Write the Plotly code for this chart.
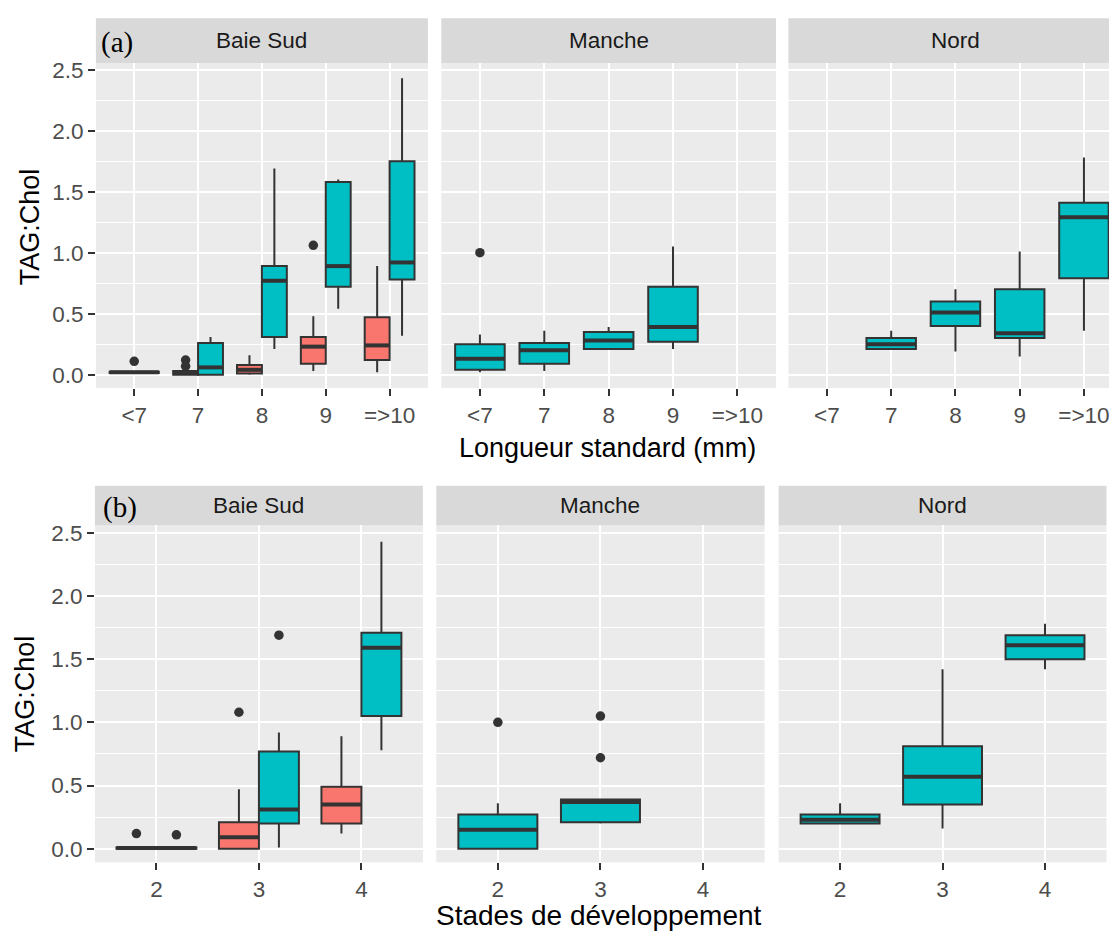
import plotly.graph_objects as go

# ---------------------------------------------------------------------------
# Data: TAG:Chol ratio summaries per facet
# Each box is (lower whisker, Q1, median, Q3, upper whisker); None = no sample
# ---------------------------------------------------------------------------
SITES = ["Baie Sud", "Manche", "Nord"]
LENGTH_CLASSES = ["<7", "7", "8", "9", "=>10"]
STAGES = ["2", "3", "4"]

# (a) by standard length
len_baie_red = [
    (0.01, 0.015, 0.02, 0.025, 0.03),
    (0.00, 0.00, 0.02, 0.03, 0.04),
    (0.00, 0.01, 0.04, 0.08, 0.16),
    (0.03, 0.09, 0.23, 0.31, 0.48),
    (0.02, 0.12, 0.24, 0.47, 0.89),
]
len_baie_teal = [
    None,
    (0.00, 0.00, 0.06, 0.26, 0.31),
    (0.21, 0.31, 0.77, 0.89, 1.69),
    (0.54, 0.72, 0.89, 1.58, 1.60),
    (0.32, 0.78, 0.92, 1.75, 2.43),
]
len_manche_teal = [
    (0.02, 0.04, 0.13, 0.25, 0.33),
    (0.03, 0.09, 0.20, 0.26, 0.36),
    (0.21, 0.21, 0.28, 0.35, 0.39),
    (0.21, 0.27, 0.39, 0.72, 1.05),
    None,
]
len_nord_teal = [
    None,
    (0.21, 0.21, 0.25, 0.30, 0.36),
    (0.19, 0.40, 0.51, 0.60, 0.70),
    (0.15, 0.30, 0.34, 0.70, 1.01),
    (0.36, 0.79, 1.29, 1.41, 1.78),
]
# outliers: (class index, value)
len_baie_red_out = [(0, 0.11), (1, 0.12), (1, 0.07), (3, 1.06)]
len_baie_teal_out = []
len_manche_teal_out = [(0, 1.00)]
len_nord_teal_out = []

# (b) by developmental stage
stage_baie_red = [
    (0.00, 0.00, 0.005, 0.01, 0.01),
    (0.00, 0.00, 0.09, 0.21, 0.47),
    (0.12, 0.20, 0.35, 0.49, 0.89),
]
stage_baie_teal = [
    (0.00, 0.00, 0.005, 0.01, 0.01),
    (0.01, 0.20, 0.31, 0.77, 0.92),
    (0.78, 1.05, 1.59, 1.71, 2.43),
]
stage_manche_teal = [
    (0.00, 0.00, 0.15, 0.27, 0.36),
    (0.20, 0.21, 0.37, 0.39, 0.39),
    None,
]
stage_nord_teal = [
    (0.20, 0.20, 0.23, 0.27, 0.36),
    (0.16, 0.35, 0.57, 0.81, 1.42),
    (1.42, 1.50, 1.61, 1.69, 1.78),
]
stage_baie_red_out = [(0, 0.12), (1, 1.08)]
stage_baie_teal_out = [(0, 0.11), (1, 1.69)]
stage_manche_teal_out = [(0, 1.00), (1, 1.05), (1, 0.72)]
stage_nord_teal_out = []

# ---------------------------------------------------------------------------
# Styling
# ---------------------------------------------------------------------------
W, H = 1110, 931
RED = "#F8766D"
TEAL = "#00BFC4"
INK = "#333333"
PANEL_BG = "#EBEBEB"
STRIP_BG = "#D9D9D9"
FONT = "Liberation Sans, Arial, sans-serif"
TICK_SIZE = 22.5

SINGLE_W = 0.77      # box width when a class holds one group
DODGE_W = 0.39       # box width when two groups share a class
DODGE_STEP = 0.39    # distance between dodged box centres


def fx(p):
    return p / W


def fy(p):
    return 1 - p / H


# panel geometry in pixels
PANELS = [
    dict(x0=96, x1=428.3, y0=58.3, y1=385, st=13.3, cats=LENGTH_CLASSES, xmax=5.6,
         yr=[-0.1084, 2.5546]),
    dict(x0=441.7, x1=776.7, y0=58.3, y1=385, st=13.3, cats=LENGTH_CLASSES, xmax=5.6,
         yr=[-0.1084, 2.5546]),
    dict(x0=789.1, x1=1110, y0=58.3, y1=385, st=13.3, cats=LENGTH_CLASSES, xmax=5.39,
         yr=[-0.1084, 2.5546]),
    dict(x0=95, x1=423.3, y0=523.3, y1=862, st=483.3, cats=STAGES, xmax=3.6,
         yr=[-0.108, 2.558]),
    dict(x0=436.7, x1=765.3, y0=523.3, y1=862, st=483.3, cats=STAGES, xmax=3.6,
         yr=[-0.108, 2.558]),
    dict(x0=779.3, x1=1107.5, y0=523.3, y1=862, st=483.3, cats=STAGES, xmax=3.6,
         yr=[-0.108, 2.558]),
]

PANEL_GROUPS = [
    [(len_baie_red, RED, len_baie_red_out), (len_baie_teal, TEAL, len_baie_teal_out)],
    [(len_manche_teal, TEAL, len_manche_teal_out)],
    [(len_nord_teal, TEAL, len_nord_teal_out)],
    [(stage_baie_red, RED, stage_baie_red_out), (stage_baie_teal, TEAL, stage_baie_teal_out)],
    [(stage_manche_teal, TEAL, stage_manche_teal_out)],
    [(stage_nord_teal, TEAL, stage_nord_teal_out)],
]

fig = go.Figure()


def add_panel(k, groups):
    xa = "x" if k == 1 else f"x{k}"
    ya = "y" if k == 1 else f"y{k}"
    ncat = len(groups[0][0])
    present = [[g for g in range(len(groups)) if groups[g][0][c] is not None]
               for c in range(ncat)]
    for gi, (stats, color, outliers) in enumerate(groups):
        centres = {}
        for c, s in enumerate(stats):
            if s is None:
                continue
            n = len(present[c])
            slot = present[c].index(gi)
            if n == 1:
                pos, w = c + 1, SINGLE_W
            else:
                pos = c + 1 + (slot - (n - 1) / 2) * DODGE_STEP
                w = DODGE_W
            centres[c] = pos
            lo, q1, med, q3, hi = s
            fig.add_trace(go.Box(
                x=[pos], q1=[q1], median=[med], q3=[q3],
                lowerfence=[lo], upperfence=[hi], width=w,
                fillcolor=color, line=dict(color=INK, width=2),
                whiskerwidth=0, boxpoints=False, hoverinfo="skip",
                xaxis=xa, yaxis=ya, showlegend=False,
            ))
            # thicker median bar
            fig.add_trace(go.Scatter(
                x=[pos - w / 2, pos + w / 2], y=[med, med], mode="lines",
                line=dict(color=INK, width=4), hoverinfo="skip",
                xaxis=xa, yaxis=ya, showlegend=False,
            ))
        if outliers:
            fig.add_trace(go.Scatter(
                x=[centres[c] for c, _ in outliers], y=[v for _, v in outliers],
                mode="markers", marker=dict(color=INK, size=9.5),
                hoverinfo="skip", xaxis=xa, yaxis=ya, showlegend=False,
            ))


layout = dict(
    width=W, height=H, autosize=False,
    margin=dict(l=0, r=0, t=0, b=0),
    paper_bgcolor="white", plot_bgcolor=PANEL_BG,
    boxmode="overlay", showlegend=False,
    font=dict(family=FONT, color="#4D4D4D"),
)

shapes, annotations = [], []
for i, p in enumerate(PANELS):
    k = i + 1
    add_panel(k, PANEL_GROUPS[i])
    xname = "xaxis" if k == 1 else f"xaxis{k}"
    yname = "yaxis" if k == 1 else f"yaxis{k}"
    left = i in (0, 3)
    ncat = len(p["cats"])
    layout[xname] = dict(
        domain=[fx(p["x0"]), fx(p["x1"])], anchor="y" if k == 1 else f"y{k}",
        range=[0.4, p["xmax"]], tickmode="array",
        tickvals=list(range(1, ncat + 1)), ticktext=p["cats"],
        showgrid=True, gridcolor="white", gridwidth=2, zeroline=False,
        ticks="outside", ticklen=7, tickwidth=2, tickcolor=INK,
        tickfont=dict(size=TICK_SIZE, color="#4D4D4D", family=FONT),
        ticklabeloverflow="allow",
        showline=False, fixedrange=True,
    )
    layout[yname] = dict(
        domain=[fy(p["y1"]), fy(p["y0"])], anchor="x" if k == 1 else f"x{k}",
        range=p["yr"], tick0=0, dtick=0.5, tickformat=".1f",
        showgrid=True, gridcolor="white", gridwidth=2, zeroline=False,
        minor=dict(dtick=0.25, tick0=0, showgrid=True, gridcolor="white",
                   gridwidth=1.1, ticks=""),
        ticks="outside" if left else "", ticklen=7, tickwidth=2, tickcolor=INK,
        showticklabels=left,
        tickfont=dict(size=TICK_SIZE, color="#4D4D4D", family=FONT),
        showline=False, fixedrange=True,
    )
    # facet strip
    shapes.append(dict(type="rect", xref="paper", yref="paper",
                       x0=fx(p["x0"]), x1=fx(p["x1"]),
                       y0=fy(p["y0"]), y1=fy(p["st"]),
                       fillcolor=STRIP_BG, line=dict(width=0), layer="below"))
    full_x1 = p["x0"] + (p["x1"] - p["x0"]) * (ncat + 0.2) / (p["xmax"] - 0.4) \
        if p["xmax"] < ncat + 0.6 else p["x1"]
    annotations.append(dict(
        text=SITES[i % 3], xref="paper", yref="paper",
        x=fx((p["x0"] + full_x1) / 2), y=fy((p["st"] + p["y0"]) / 2),
        xanchor="center", yanchor="middle", showarrow=False,
        font=dict(size=TICK_SIZE, color="#1A1A1A", family=FONT),
    ))

# panel tags
annotations.append(dict(text="(a)", xref="paper", yref="paper", x=fx(99), y=fy(38),
                        xanchor="left", yanchor="middle", showarrow=False,
                        font=dict(size=29, color="black",
                                  family="Liberation Serif, Times New Roman, serif")))
annotations.append(dict(text="(b)", xref="paper", yref="paper", x=fx(101), y=fy(505),
                        xanchor="left", yanchor="middle", showarrow=False,
                        font=dict(size=29, color="black",
                                  family="Liberation Serif, Times New Roman, serif")))

# axis titles
annotations.append(dict(text="Longueur standard (mm)", xref="paper", yref="paper",
                        x=fx(608), y=fy(445), xanchor="center", yanchor="middle",
                        showarrow=False, font=dict(size=27, color="black", family=FONT)))
annotations.append(dict(text="Stades de développement", xref="paper", yref="paper",
                        x=fx(600), y=fy(915), xanchor="center", yanchor="middle",
                        showarrow=False, font=dict(size=28, color="black", family=FONT)))
annotations.append(dict(text="TAG:Chol", xref="paper", yref="paper",
                        x=fx(29.5), y=fy(223), xanchor="center", yanchor="middle",
                        textangle=-90, showarrow=False,
                        font=dict(size=27, color="black", family=FONT)))
annotations.append(dict(text="TAG:Chol", xref="paper", yref="paper",
                        x=fx(25), y=fy(692), xanchor="center", yanchor="middle",
                        textangle=-90, showarrow=False,
                        font=dict(size=27, color="black", family=FONT)))

layout["shapes"] = shapes
layout["annotations"] = annotations
fig.update_layout(**layout)

fig.write_html("out.html")
